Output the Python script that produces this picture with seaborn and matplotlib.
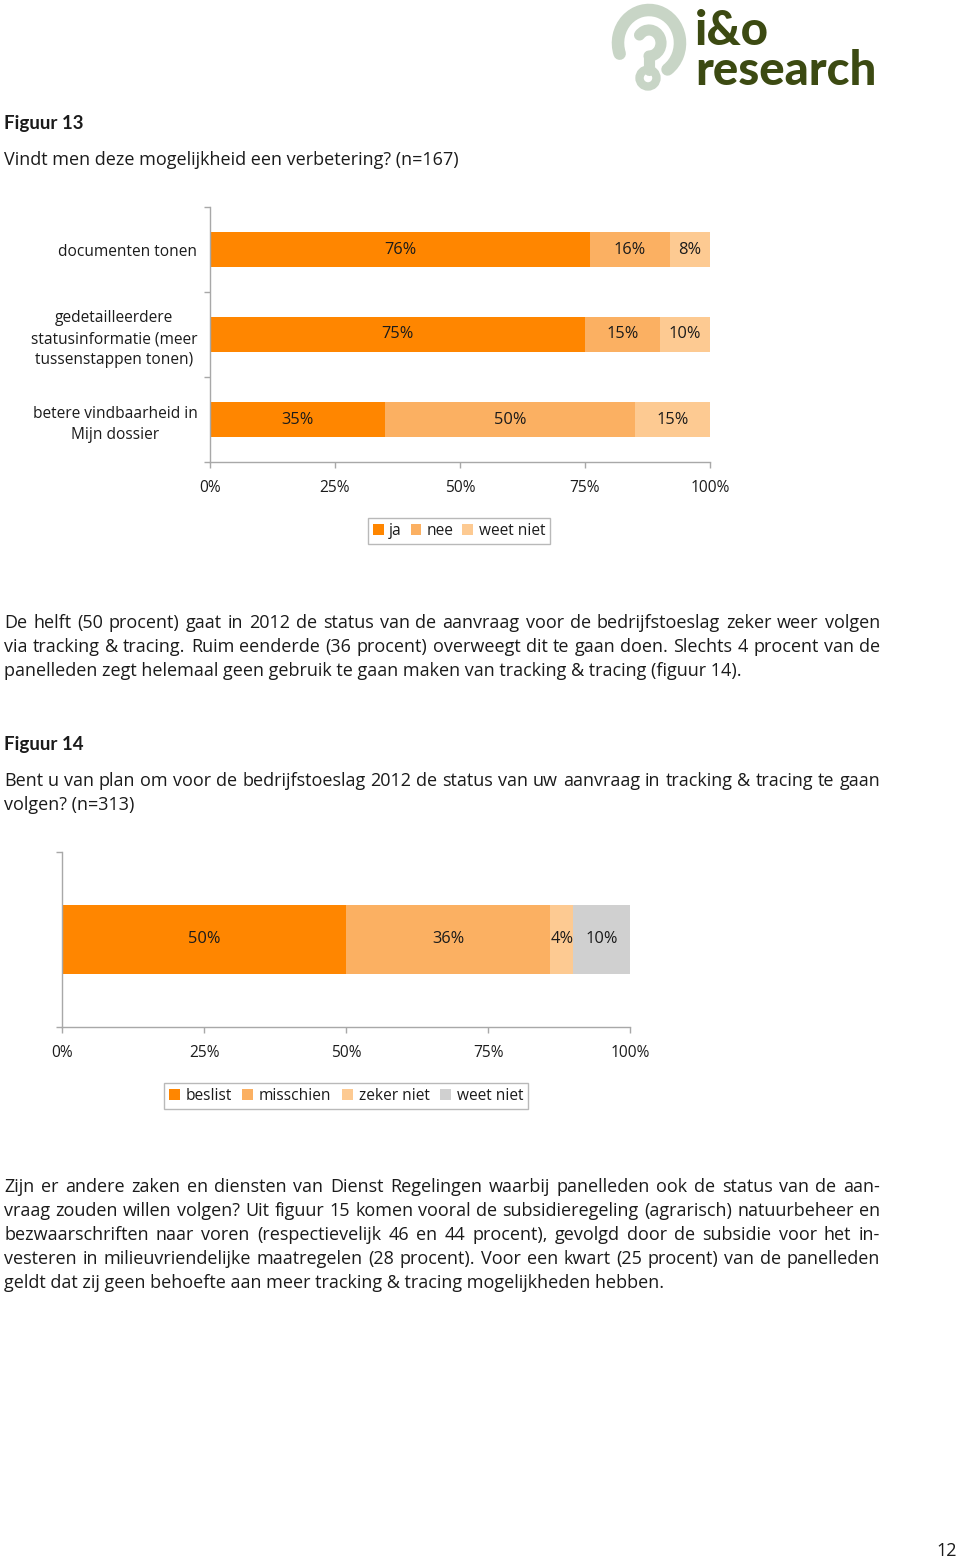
import matplotlib
matplotlib.use("Agg")
import matplotlib.pyplot as plt
import seaborn as sns
import numpy as np
from matplotlib.patches import Patch, Arc, Circle

# ---------------- data ----------------
cats1 = ["documenten tonen",
         "gedetailleerdere\nstatusinformatie (meer\ntussenstappen tonen)",
         "betere vindbaarheid in\nMijn dossier"]
series1_names = ["ja", "nee", "weet niet"]
ja = [76, 75, 35]
nee = [16, 15, 50]
weet_niet1 = [8, 10, 15]

cats2 = ["volgen"]
series2_names = ["beslist", "misschien", "zeker niet", "weet niet"]
beslist = [50]
misschien = [36]
zeker_niet = [4]
weet_niet2 = [10]

xticks = [0, 25, 50, 75, 100]
xticklabels = ["0%", "25%", "50%", "75%", "100%"]

colors1 = ["#FF8600", "#FBB062", "#FDCA92"]
colors2 = ["#FF8600", "#FBB062", "#FDCA92", "#D0D0D0"]

# ---------------- setup ----------------
sns.set_theme(style="white")
plt.rcParams["font.family"] = ["Open Sans", "DejaVu Sans"]
W, H = 960, 1562
fig = plt.figure(figsize=(W / 100, H / 100), dpi=100)
fig.patch.set_facecolor("white")

TXT = "#1b1b1b"
AXC = "#A8A8A8"
FS = 13
TFS = 11.2
VFS = 11.8


def fx(x):
    return x / W


def fy(y):
    return 1 - y / H


def put_line(x0, y, text, x1=None, **kw):
    kw.setdefault("va", "center")
    kw.setdefault("color", TXT)
    kw.setdefault("fontsize", FS)
    if x1 is None:
        fig.text(fx(x0), fy(y), text, **kw)
        return
    words = text.split(" ")
    objs = [fig.text(0, fy(y), w, **kw) for w in words]
    r = fig.canvas.get_renderer()
    widths = [o.get_window_extent(r).width for o in objs]
    gap = (x1 - x0 - sum(widths)) / (len(words) - 1)
    x = x0
    for o, w in zip(objs, widths):
        o.set_x(fx(x))
        x += w + gap


def stacked(ax, cats, series, colors, height):
    cum = np.cumsum(np.array(series, dtype=float), axis=0)
    for k in range(len(series) - 1, -1, -1):
        sns.barplot(x=list(cum[k]), y=cats, orient="h", color=colors[k],
                    saturation=1, width=height, linewidth=0, ax=ax)
    starts = np.vstack([np.zeros(len(cats)), cum[:-1]])
    for k, s in enumerate(series):
        for i, v in enumerate(s):
            ax.text(starts[k][i] + v / 2, i, f"{v}%", ha="center", va="center",
                    fontsize=VFS, color=TXT)


def style_axes(ax, n):
    ax.set_xlim(0, 100)
    ax.set_ylim(n - 0.5, -0.5)
    ax.set_xlabel("")
    ax.set_ylabel("")
    for s in ["top", "right"]:
        ax.spines[s].set_visible(False)
    for s in ["left", "bottom"]:
        ax.spines[s].set_color(AXC)
        ax.spines[s].set_linewidth(1)
    ax.set_xticks(xticks)
    ax.set_xticklabels(xticklabels)
    ax.tick_params(axis="x", bottom=True, length=4, width=1, color=AXC,
                   pad=9, labelsize=TFS, labelcolor=TXT, direction="out")
    ax.set_yticks(np.arange(-0.5, n, 1.0), minor=True)
    ax.tick_params(axis="y", which="minor", left=True, length=4, width=1,
                   color=AXC, direction="out")
    ax.tick_params(axis="y", which="major", left=False, length=0, pad=9,
                   labelsize=TFS, labelcolor=TXT)
    ax.set_facecolor("white")


def make_legend(handles, names, cx, cy, colsp):
    leg = fig.legend(handles, names, loc="center", bbox_to_anchor=(fx(cx), fy(cy)),
                     ncol=len(names), frameon=True, fancybox=False, fontsize=TFS,
                     handlelength=0.7, handleheight=0.7, handletextpad=0.35,
                     columnspacing=colsp, borderpad=0.3, borderaxespad=0)
    leg.get_frame().set_edgecolor(AXC)
    leg.get_frame().set_linewidth(1)
    for t in leg.get_texts():
        t.set_color(TXT)
    return leg


# ---------------- chart 1 ----------------
ax1 = fig.add_axes([fx(210), fy(462), 500 / W, 255 / H])
stacked(ax1, cats1, [ja, nee, weet_niet1], colors1, 0.41)
style_axes(ax1, len(cats1))
ax1.set_yticks(range(len(cats1)))
ax1.set_yticklabels(cats1)
for lab in ax1.get_yticklabels():
    lab.set_multialignment("center")
    lab.set_linespacing(1.42)

make_legend([Patch(facecolor=c, edgecolor="none") for c in colors1],
            series1_names, 459, 531, 0.55)

# ---------------- chart 2 ----------------
ax2 = fig.add_axes([fx(62), fy(1027), 568 / W, 175 / H])
stacked(ax2, cats2, [beslist, misschien, zeker_niet, weet_niet2], colors2, 0.394)
style_axes(ax2, len(cats2))
ax2.set_yticks([0])
ax2.set_yticklabels([""])

make_legend([Patch(facecolor=c, edgecolor="none") for c in colors2],
            series2_names, 346, 1096, 0.7)

# ---------------- page text ----------------
put_line(4, 124, "Figuur 13", fontsize=13.5, fontweight="bold", family=["Lato"])
put_line(4, 160, "Vindt men deze mogelijkheid een verbetering? (n=167)")

put_line(4, 623, "De helft (50 procent) gaat in 2012 de status van de aanvraag voor de bedrijfstoeslag zeker weer volgen", x1=880)
put_line(4, 647, "via tracking & tracing. Ruim eenderde (36 procent) overweegt dit te gaan doen. Slechts 4 procent van de", x1=880)
put_line(4, 671, "panelleden zegt helemaal geen gebruik te gaan maken van tracking & tracing (figuur 14).")

put_line(4, 745, "Figuur 14", fontsize=13.5, fontweight="bold", family=["Lato"])
put_line(4, 781, "Bent u van plan om voor de bedrijfstoeslag 2012 de status van uw aanvraag in tracking & tracing te gaan", x1=880)
put_line(4, 805, "volgen? (n=313)")

put_line(4, 1187, "Zijn er andere zaken en diensten van Dienst Regelingen waarbij panelleden ook de status van de aan-", x1=880)
put_line(4, 1211, "vraag zouden willen volgen? Uit figuur 15 komen vooral de subsidieregeling (agrarisch) natuurbeheer en", x1=880)
put_line(4, 1235, "bezwaarschriften naar voren (respectievelijk 46 en 44 procent), gevolgd door de subsidie voor het in-", x1=880)
put_line(4, 1259, "vesteren in milieuvriendelijke maatregelen (28 procent). Voor een kwart (25 procent) van de panelleden", x1=880)
put_line(4, 1283, "geldt dat zij geen behoefte aan meer tracking & tracing mogelijkheden hebben.")

put_line(957, 1551, "12", ha="right")

# ---------------- logo ----------------
LOGO = "#3C4A12"
fig.text(fx(695), fy(45), "i&o", fontsize=34, fontweight=900, color=LOGO,
         va="baseline", ha="left", family=["Lato"])
fig.text(fx(695), fy(85), "research", fontsize=34, fontweight=900, color=LOGO,
         va="baseline", ha="left", family=["Lato"])
axl = fig.add_axes([fx(600), fy(100), 100 / W, 100 / H])
axl.set_xlim(0, 100)
axl.set_ylim(0, 100)
axl.axis("off")
LG = "#C8D5C6"
axl.add_patch(Arc((49, 57), 62, 66, theta1=-55, theta2=200, lw=9, color=LG,
                  capstyle="round"))
axl.add_patch(Arc((49, 57), 24, 26, theta1=-90, theta2=140, lw=8, color=LG,
                  capstyle="round"))
axl.plot([49, 49], [44, 30], color=LG, lw=8, solid_capstyle="round")
axl.add_patch(Circle((48, 22), 8.5, fill=False, lw=6, color=LG))

fig.savefig("out.png", dpi=100, facecolor="white")
